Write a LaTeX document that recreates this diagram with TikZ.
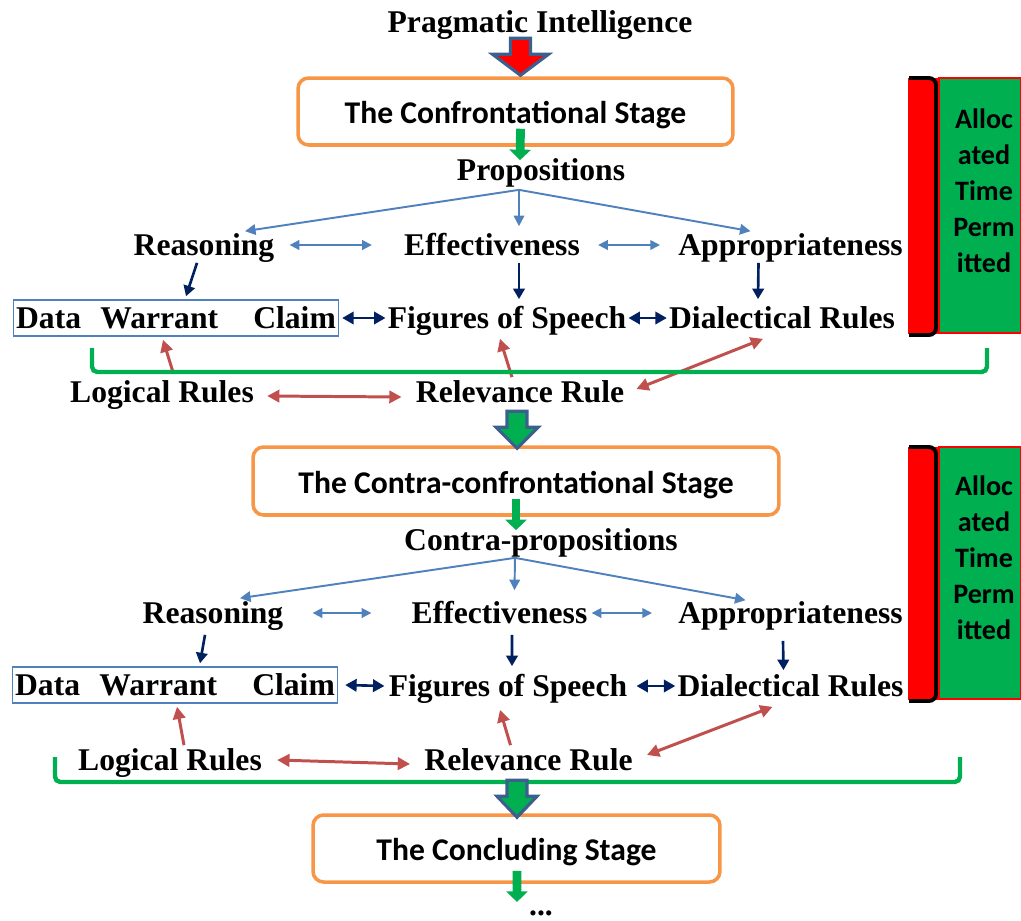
\documentclass[tikz,border=0pt]{standalone}
\usepackage{fontspec}
\setmainfont{Liberation Serif}
\newfontfamily\calibfont{Carlito}
\usetikzlibrary{arrows.meta, calc}
\definecolor{stageorange}{HTML}{F79646}
\definecolor{forkblue}{HTML}{4F81BD}
\definecolor{navyblue}{HTML}{002060}
\definecolor{rulered}{HTML}{C0504D}
\definecolor{brgreen}{HTML}{00B050}
\definecolor{arrblue}{HTML}{3C5F8E}
\definecolor{panelred}{HTML}{FF0000}

\begin{document}
\begin{tikzpicture}[x=0.02cm, y=-0.02cm,
  lbl/.style={font=\fontsize{18}{20}\selectfont\bfseries, inner sep=0pt, text height=14.5pt, text depth=2pt},
  stagebox/.style={draw=stageorange, line width=2pt, rounded corners=6pt, minimum height=1.34cm,
    text height=16pt, text depth=2pt, font=\calibfont\fontsize{18}{20}\selectfont\bfseries},
  dwcbox/.style={lbl, draw=forkblue, line width=0.8pt, inner xsep=1.5pt, inner ysep=2pt},
  sidetext/.style={align=center, font=\calibfont\fontsize{16}{20.5}\selectfont\bfseries},
  forkarr/.style={draw=forkblue, line width=1.1pt, -{Triangle[length=6pt,width=6pt]}},
  lbdouble/.style={draw=forkblue, line width=1pt, {Triangle[length=5.5pt,width=5.5pt]}-{Triangle[length=5.5pt,width=5.5pt]}},
  navyarr/.style={draw=navyblue, line width=1.5pt, -{Triangle[length=6pt,width=6.5pt]}},
  navydouble/.style={draw=navyblue, line width=1.5pt, {Triangle[length=6.5pt,width=7pt]}-{Triangle[length=6.5pt,width=7pt]}},
  redarr/.style={draw=rulered, line width=1.7pt, -{Triangle[length=7pt,width=7pt]}},
  reddouble/.style={draw=rulered, line width=1.7pt, {Triangle[length=7pt,width=7pt]}-{Triangle[length=7pt,width=7pt]}},
  grnarr/.style={draw=brgreen, line width=5pt, -{Triangle[length=6pt,width=12pt]}},
  brace/.style={draw=brgreen, line width=2.5pt, rounded corners=3pt},
  blockstyle/.style={draw=arrblue, line width=1.8pt, line join=miter},
  pics/blockarr/.style={code={\path[pic actions] (-10,-37) -- (10,-37) -- (10,-21) -- (#1,-21) -- (0,0)
      -- (-#1,-21) -- (-10,-21) -- cycle;}},
]
\useasboundingbox (0,0) rectangle (1021,920);

% stage one
\node[lbl] (prag) at (540,22) {Pragmatic Intelligence};
\node[stagebox, minimum width=8.7cm] (stage1) at (515.5,111.5) {The Confrontational Stage};
\pic[blockstyle, fill=red] at ($(stage1.north)+(5,-1)$) {blockarr=28};
\node[lbl] (prop1) at (541,170) {Propositions};
\draw[grnarr] ($(stage1.south)+(5,-18)$) -- ($(prop1.north)+(-21,5)$);

\node[lbl] (reas1) at (204,245) {Reasoning};
\node[lbl] (eff1) at (492,245) {Effectiveness};
\node[lbl] (appr1) at (790.5,245) {Appropriateness};
\node[dwcbox] (dwc1) at (176,318) {Data\hspace{11pt}Warrant\hspace{20pt}Claim};
\node[lbl] (fig1) at (507,318) {Figures of Speech};
\node[lbl] (dial1) at (782,318) {Dialectical Rules};
\node[lbl] (log1) at (162,392) {Logical Rules};
\node[lbl] (rel1) at (520,392) {Relevance Rule};

\coordinate (fork1) at ($(prop1.south)+(-22,5)$);
\draw[forkarr] (fork1) -- ($(reas1.north)+(41,1)$);
\draw[forkarr] (fork1) -- ($(eff1.north)+(27,-4)$);
\draw[forkarr] (fork1) -- ($(appr1.north)+(-40,1)$);
\draw[lbdouble] ($(reas1.east)+(15,0)$) -- ($(eff1.west)+(-32,0)$);
\draw[lbdouble] ($(eff1.east)+(18,0)$) -- ($(appr1.west)+(-18,0)$);

\draw[navyarr] ($(reas1.south)+(-7,3)$) -- ($(dwc1.north)+(10,-3)$);
\draw[navyarr] ($(eff1.south)+(27,3)$) -- ($(fig1.north)+(12,-4)$);
\draw[navyarr] ($(appr1.south)+(-32,3)$) -- ($(dial1.north)+(-24,-4)$);
\draw[navydouble] ($(dwc1.east)+(3,0)$) -- ($(fig1.west)+(-2,0)$);
\draw[navydouble] ($(fig1.east)+(2,0)$) -- ($(dial1.west)+(-2,0)$);

\draw[redarr] ($(log1.north)+(11,-5)$) -- ($(dwc1.south)+(-13,3)$);
\draw[redarr] ($(rel1.north)+(-8,0)$) -- ($(fig1.south)+(-7,6)$);
\draw[reddouble] ($(rel1.east)+(12,-3)$) -- ($(dial1.south)+(-19,6)$);
\draw[reddouble] ($(log1.east)+(13,4)$) -- ($(rel1.west)+(-14,5)$);
\draw[brace] (92,348) -- (92,372) -- (987,372) -- (987,348);

\fill[panelred] (908,78) rectangle (938,334);
\draw[line width=2.2pt, rounded corners=4pt] (909,78) -- (936,78) -- (936,335) -- (909,335);
\draw[draw=panelred, fill=brgreen, line width=0.6pt] (939,78) rectangle (1021,333);
\node[sidetext] (time1) at (984,191) {Alloc\\ated\\Time\\Perm\\itted};

% stage two
\node[stagebox, minimum width=10.52cm, minimum height=1.36cm] (stage2) at (516,481) {The Contra-confrontational Stage};
\pic[blockstyle, fill=brgreen] at ($(stage2.north)+(1,3)$) {blockarr=21};
\node[lbl] (cprop) at (541,540) {Contra-propositions};
\draw[grnarr] ($(stage2.south)+(0,-18)$) -- ($(cprop.north)+(-25,5)$);

\node[lbl] (reas2) at (213,613) {Reasoning};
\node[lbl] (eff2) at (499.5,613) {Effectiveness};
\node[lbl] (appr2) at (790.5,613) {Appropriateness};
\node[dwcbox] (dwc2) at (175,685) {Data\hspace{11pt}Warrant\hspace{20pt}Claim};
\node[lbl] (fig2) at (508,686) {Figures of Speech};
\node[lbl] (dial2) at (790.5,686) {Dialectical Rules};
\node[lbl] (log2) at (170,760) {Logical Rules};
\node[lbl] (rel2) at (528.5,760) {Relevance Rule};

\coordinate (fork2) at ($(cprop.south)+(-26,3)$);
\draw[forkarr] (fork2) -- ($(reas2.north)+(27,0)$);
\draw[forkarr] (fork2) -- ($(eff2.north)+(15,-8)$);
\draw[forkarr] (fork2) -- ($(appr2.north)+(-45,2)$);
\draw[lbdouble] ($(reas2.east)+(29,0)$) -- ($(eff2.west)+(-40,0)$);
\draw[lbdouble] ($(eff2.east)+(4,0)$) -- ($(appr2.west)+(-26,0)$);

\draw[navyarr] ($(reas2.south)+(-8,7)$) -- ($(dwc2.north)+(25,-3)$);
\draw[navyarr] ($(eff2.south)+(12.5,7)$) -- ($(fig2.north)+(4,-5)$);
\draw[navyarr] ($(appr2.south)+(-7.5,13)$) -- ($(dial2.north)+(-7,-1)$);
\draw[navydouble] ($(dwc2.east)+(7,0)$) -- ($(fig2.west)+(-4,0)$);
\draw[navydouble] ($(fig2.east)+(9,0)$) -- ($(dial2.west)+(-2,0)$);

\draw[redarr] ($(log2.north)+(14,0)$) -- ($(dwc2.south)+(2,3)$);
\draw[redarr] ($(rel2.north)+(-18,0)$) -- ($(fig2.south)+(-8,9)$);
\draw[reddouble] ($(rel2.east)+(14,-5)$) -- ($(dial2.south)+(-18,6)$);
\draw[reddouble] ($(log2.east)+(15,0)$) -- ($(rel2.west)+(-14,4)$);
\draw[brace] (55,757) -- (55,782) -- (960,782) -- (960,757);

\fill[panelred] (908,447) rectangle (938,700);
\draw[line width=2.2pt, rounded corners=4pt] (909,447) -- (936,447) -- (936,701) -- (909,701);
\draw[draw=panelred, fill=brgreen, line width=0.6pt] (939,447) rectangle (1021,699);
\node[sidetext] (time2) at (984,558) {Alloc\\ated\\Time\\Perm\\itted};

% stage three
\node[stagebox, minimum width=8.14cm] (stage3) at (516.5,848.5) {The Concluding Stage};
\pic[blockstyle, fill=brgreen] at ($(stage3.north)+(0.5,4)$) {blockarr=20};
\node[lbl, text depth=0pt] (dots) at (541,903) {...};
\draw[grnarr] ($(stage3.south)+(0.5,-13)$) -- ($(dots.north)+(-24,12)$);
\end{tikzpicture}
\end{document}
